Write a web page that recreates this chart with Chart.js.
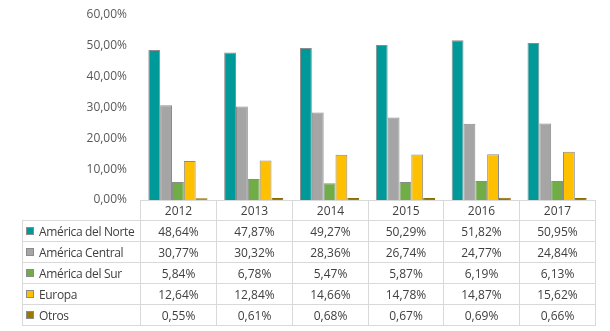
<!DOCTYPE html>
<html>
<head>
<meta charset="utf-8">
<script src="https://cdn.jsdelivr.net/npm/chart.js@4.4.1/dist/chart.umd.min.js"></script>
<style>
  html, body { margin: 0; padding: 0; background: #fff; }
  #wrap { position: relative; width: 610px; height: 331px; overflow: hidden; }
  #c { position: absolute; left: 0; top: 0; }
  .cell {
    position: absolute; box-sizing: border-box; border: 1px solid #d9d9d9;
    font: 12px "Open Sans", sans-serif; color: #404040;
    display: flex; align-items: center; justify-content: center; white-space: nowrap;
  }
  .cell.lbl { justify-content: flex-start; padding-left: 3px; letter-spacing: -0.35px; }
  .sw { display: inline-block; width: 8px; height: 8px; margin-right: 5px; border: 1px solid #8c8c8c; box-sizing: border-box; }
</style>
</head>
<body>
<div id="wrap">
  <canvas id="c" width="610" height="331"></canvas>
</div>
<script>
const years = ['2012', '2013', '2014', '2015', '2016', '2017'];
const seriesNames = ['América del Norte', 'América Central', 'América del Sur', 'Europa', 'Otros'];
const norte = [48.64, 47.87, 49.27, 50.29, 51.82, 50.95];
const central = [30.77, 30.32, 28.36, 26.74, 24.77, 24.84];
const sur = [5.84, 6.78, 5.47, 5.87, 6.19, 6.13];
const europa = [12.64, 12.84, 14.66, 14.78, 14.87, 15.62];
const otros = [0.55, 0.61, 0.68, 0.67, 0.69, 0.66];
const colors = ['#009999', '#a5a5a5', '#70ad47', '#ffc000', '#9c7800'];
const borders = ['#8c8c8c', '#8c8c8c', '#8c8c8c', '#8c8c8c', '#8a6c00'];

const pct = v => v.toFixed(2).replace('.', ',') + '%';

let values = [norte, central, sur, europa, otros];
let datasets = values.map((d, i) => ({
  label: seriesNames[i],
  data: d,
  backgroundColor: colors[i],
  borderColor: borders[i],
  borderWidth: 1,
  categoryPercentage: 0.78,
  barPercentage: 1
}));

let chart = new Chart('c', {
  type: 'bar',
  data: { labels: years, datasets },
  options: {
    responsive: false,
    animation: false,
    layout: { padding: { top: 15, bottom: 131, left: 0, right: 15 } },
    plugins: { legend: { display: false }, tooltip: { enabled: false } },
    scales: {
      x: { display: false },
      y: {
        min: 0, max: 60,
        grid: { display: false, drawTicks: false },
        border: { display: false },
        // fixed axis width so the plot lines up with the table columns
        afterFit: s => { s.width = 140; s.paddingTop = 0; s.paddingBottom = 0; },
        ticks: {
          stepSize: 10,
          padding: 13,
          color: '#595959',
          font: { family: "'Open Sans'", size: 12 },
          callback: v => pct(v)
        }
      }
    }
  }
});

// data table under the plot, columns taken from the x scale
let wrap = document.getElementById('wrap');
let area = chart.chartArea;
let colW = area.width / years.length;
let tableTop = Math.round(area.bottom);
let headH = 20, rowH = 21;

let cell = (x, y, w, h, html, cls) => {
  let d = document.createElement('div');
  d.className = 'cell' + (cls ? ' ' + cls : '');
  d.style.left = Math.round(x) + 'px';
  d.style.top = Math.round(y) + 'px';
  d.style.width = (Math.round(x + w) - Math.round(x) + 1) + 'px';
  d.style.height = (h + 1) + 'px';
  d.innerHTML = html;
  wrap.appendChild(d);
};

years.forEach((yr, j) => {
  let x = chart.scales.x.getPixelForValue(j) - colW / 2;
  cell(x, tableTop, colW, headH, yr);
  values.forEach((d, i) => {
    cell(x, tableTop + headH + i * rowH, colW, rowH, pct(d[j]));
  });
});
values.forEach((d, i) => {
  cell(22, tableTop + headH + i * rowH, area.left - 22, rowH,
    '<span class="sw" style="background:' + colors[i] + '"></span>' + seriesNames[i], 'lbl');
});
</script>
</body>
</html>
